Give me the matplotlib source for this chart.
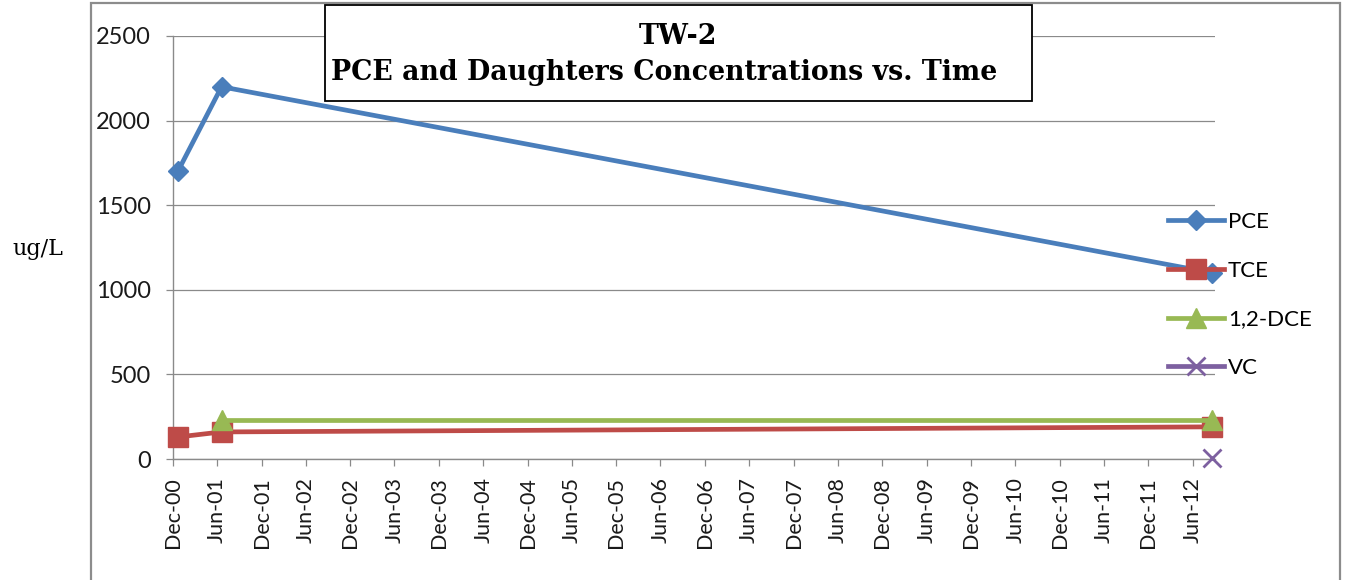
import matplotlib
matplotlib.use("Agg")
import matplotlib.pyplot as plt
import matplotlib.dates as mdates
from matplotlib.patches import Rectangle
import numpy as np
import datetime as dt

# ---- data ----
sample_dates = [dt.date(2000, 12, 21), dt.date(2001, 6, 19), dt.date(2012, 8, 20)]
pce = [1700, 2200, 1100]
tce = [130, 160, 190]
dce = [np.nan, 230, 230]
vc = [np.nan, np.nan, 5]
tick_labels = [f"{m}-{y:02d}" for y in range(0, 13) for m in ("Jun", "Dec")][1:-1]
# tick_labels: Dec-00, Jun-01, ..., Jun-12
title_line1 = "TW-2"
title_line2 = "PCE and Daughters Concentrations vs. Time"
ylabel = "ug/L"

W, H = 1348, 580
fig = plt.figure(figsize=(W / 100, H / 100), dpi=100)

def fx(px):
    return px / W

def fy(py):
    return 1 - py / H

# outer chart frame
fig.add_artist(Rectangle((fx(91), fy(610)), fx(1340) - fx(91), fy(3) - fy(610),
                         transform=fig.transFigure, fill=False,
                         edgecolor="#8c8c8c", linewidth=1.6, clip_on=False))

ax = fig.add_axes([fx(173), fy(459), fx(1215) - fx(173), fy(36) - fy(459)])

colors = {"PCE": "#4A7EBB", "TCE": "#BE4B48", "1,2-DCE": "#98B954", "VC": "#7D60A0"}
x = mdates.date2num(sample_dates)
ax.plot(x, pce, color=colors["PCE"], lw=3.4, marker="D", ms=10, label="PCE",
        zorder=3, clip_on=False)
ax.plot(x, tce, color=colors["TCE"], lw=3.4, marker="s", ms=14, label="TCE",
        zorder=4, clip_on=False)
ax.plot(x, dce, color=colors["1,2-DCE"], lw=3.4, marker="^", ms=14, label="1,2-DCE",
        zorder=5, clip_on=False)
ax.plot(x, vc, color=colors["VC"], lw=3.4, marker="x", ms=13, mew=2, label="VC",
        zorder=6, clip_on=False)

# axes styling
ax.set_ylim(0, 2500)
ax.set_yticks(np.arange(0, 2501, 500))
tick_dates = []
for i, lab in enumerate(tick_labels):
    yr = 2000 + (i + 1) // 2
    mo = 12 if i % 2 == 0 else 6
    tick_dates.append(dt.date(yr, mo, 1))
ax.set_xticks(mdates.date2num(tick_dates))
ax.set_xticklabels(tick_labels, rotation=90)
ax.set_xlim(mdates.date2num(dt.date(2000, 12, 1)), mdates.date2num(dt.date(2012, 9, 1)))

ax.grid(axis="y", color="#8a8a8a", lw=0.9)
ax.set_axisbelow(True)
for s in ("top", "right"):
    ax.spines[s].set_visible(False)
for s in ("left", "bottom"):
    ax.spines[s].set_color("#8a8a8a")
    ax.spines[s].set_linewidth(1.0)
ax.tick_params(axis="y", direction="out", length=5, width=0.9, color="#8a8a8a",
               pad=11, labelsize=17, labelcolor="#1a1a1a")
ax.tick_params(axis="x", direction="out", length=5, width=0.9, color="#8a8a8a",
               pad=8, labelsize=15.5, labelcolor="#1a1a1a")
for lab in ax.get_xticklabels() + ax.get_yticklabels():
    lab.set_family("Lato")

# legend
leg = fig.legend(loc="center left", bbox_to_anchor=(fx(1168), fy(295)),
                 frameon=False, prop={"family": "Lato", "size": 16},
                 handlelength=2.5, handletextpad=0.2, labelspacing=1.29,
                 borderpad=0, borderaxespad=0, numpoints=1)

# y label (outside the frame)
fig.text(fx(38), fy(249), ylabel, family="DejaVu Serif", fontsize=16,
         ha="center", va="center")

# title box
fig.add_artist(Rectangle((fx(325), fy(101)), fx(1032) - fx(325), fy(5) - fy(101),
                         transform=fig.transFigure, facecolor="white",
                         edgecolor="black", linewidth=1.3, zorder=10))
fig.text(fx(678), fy(37), title_line1, family="DejaVu Serif", weight="bold",
         fontsize=19.3, ha="center", va="center", zorder=11)
fig.text(fx(664), fy(73), title_line2, family="DejaVu Serif", weight="bold",
         fontsize=19.3, ha="center", va="center", zorder=11)

fig.savefig("out.png", dpi=100)
